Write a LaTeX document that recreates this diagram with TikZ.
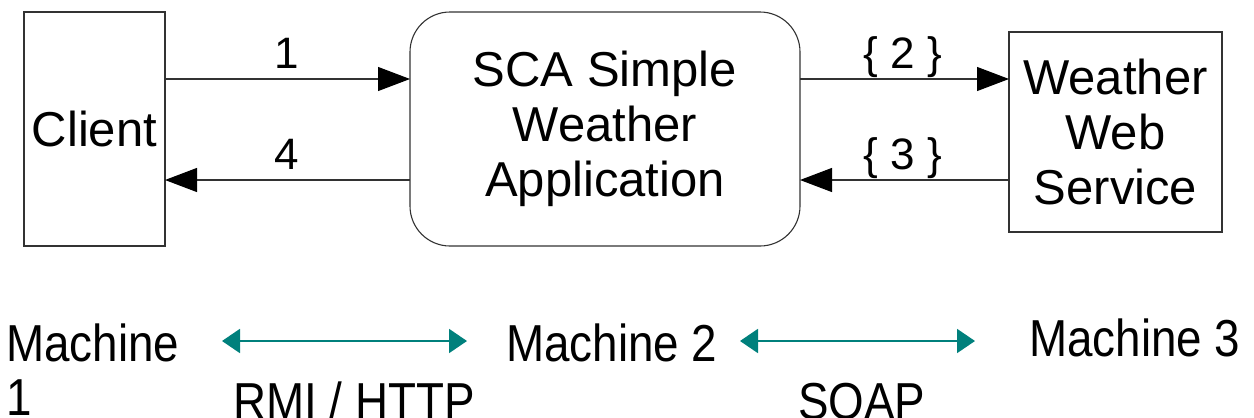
\documentclass[tikz,border=0pt]{standalone}
\usepackage{fontspec}
\setmainfont{Liberation Sans}
\usetikzlibrary{arrows.meta}
\definecolor{linkteal}{RGB}{0,128,124}
\definecolor{boxline}{RGB}{50,50,50}
\tikzset{
  unitbox/.style={draw=boxline, line width=1.1pt, inner sep=0pt, align=center,
    font=\fontsize{49}{55}\selectfont},
  msg/.style={draw=boxline, line width=1.1pt, -{Triangle[length=32pt,width=24pt,fill=black,color=black]}},
  msglabel/.style={font=\fontsize{44}{50}\selectfont, anchor=base, inner sep=0pt},
  machine/.style={font=\fontsize{52}{54}\selectfont, anchor=base west, inner sep=0pt, align=left},
  proto/.style={draw=linkteal, line width=2pt,
    {Triangle[length=18pt,width=24pt]}-{Triangle[length=18pt,width=24pt]}},
}
\newcommand{\narrow}[1]{\scalebox{0.88}[1]{#1}}
\begin{document}
\begin{tikzpicture}[x=1pt,y=-1pt]
\useasboundingbox (0,0) rectangle (1254,418);

% components
\node[unitbox, minimum width=141pt, minimum height=234pt] (client) at (94.5,129) {Client};
\node[unitbox, rounded corners=40pt, minimum width=390pt, minimum height=234pt] (sca) at (605,129)
  {SCA Simple\\Weather\\Application};
\node[unitbox, minimum width=213pt, minimum height=200pt] (ws) at (1115.5,132)
  {Weather\\Web\\Service};

% request / response arrows
\coordinate (c1) at (165,79);
\coordinate (c4) at (165,180);
\coordinate (s1) at (410,79);
\coordinate (s4) at (410,180);
\coordinate (s2) at (800,79);
\coordinate (s3) at (800,180);
\coordinate (w2) at (1009,79);
\coordinate (w3) at (1009,180);
\draw[msg] (c1) -- (s1);
\draw[msg] (s4) -- (c4);
\draw[msg] (s2) -- (w2);
\draw[msg] (w3) -- (s3);
\node[msglabel] (l1) at (287,68) {1};
\node[msglabel] (l4) at (287,169) {4};
\node[msglabel] (l2) at (903,68) {\{ 2 \}};
\node[msglabel] (l3) at (903,169) {\{ 3 \}};

% machines and protocols
\node[machine] (m1) at (6,415) {\narrow{Machine}\\\narrow{1}};
\node[machine] (m2) at (506,361) {\narrow{Machine 2}};
\node[machine] (m3) at (1029,356) {\narrow{Machine 3}};
\node[machine] (rmi) at (233,419) {\narrow{RMI / HTTP}};
\node[machine] (soap) at (798,419) {\narrow{SOAP}};
\coordinate (p1a) at (222,341);
\coordinate (p1b) at (467,341);
\coordinate (p2a) at (740,341);
\coordinate (p2b) at (975,341);
\draw[proto] (p1a) -- (p1b);
\draw[proto] (p2a) -- (p2b);
\end{tikzpicture}
\end{document}
